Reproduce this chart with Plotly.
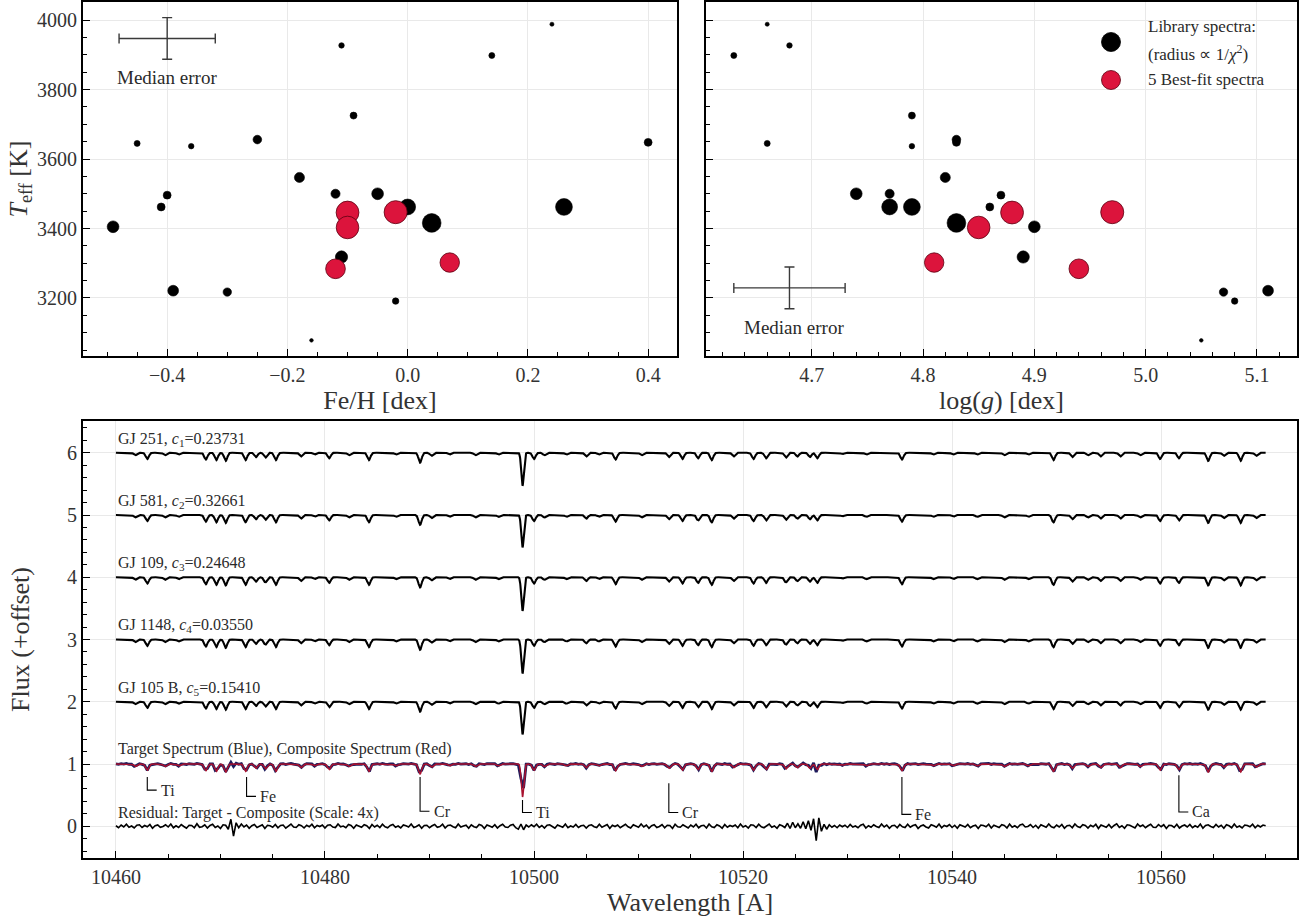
import numpy as np
import plotly.graph_objects as go

# ---------------------------------------------------------------- data
# Library stars: effective temperature, metallicity, surface gravity and
# relative 1/chi^2 weight (marker radius is proportional to it)
lib_teff = [3988, 3927, 3898, 3725, 3656, 3648, 3645, 3637, 3547, 3500, 3500,
            3496, 3462, 3462, 3462, 3416, 3405, 3318, 3221, 3217, 3191, 3078]
lib_feh = [0.24, -0.11, 0.14, -0.09, -0.25, 0.40, -0.45, -0.36, -0.18, -0.05, -0.12,
           -0.40, -0.41, 0.00, 0.26, 0.04, -0.49, -0.11, -0.39, -0.30, -0.02, -0.16]
lib_logg = [4.66, 4.68, 4.63, 4.79, 4.83, 4.83, 4.66, 4.79, 4.82, 4.74, 4.77,
            4.87, 4.86, 4.77, 4.79, 4.83, 4.90, 4.89, 5.11, 5.07, 5.08, 5.05]
lib_weight = [0.17, 0.23, 0.25, 0.29, 0.36, 0.33, 0.25, 0.23, 0.42, 0.49, 0.38,
              0.33, 0.33, 0.66, 0.70, 0.78, 0.49, 0.51, 0.45, 0.35, 0.27, 0.15]

# The five best-fit library spectra
best_teff = [3446, 3447, 3403, 3302, 3284]
best_feh = [-0.10, -0.02, -0.10, 0.07, -0.12]
best_logg = [4.88, 4.97, 4.85, 4.81, 4.94]
best_weight = [0.95, 0.96, 0.94, 0.81, 0.82]

# Median uncertainties of the library parameters
med_err_feh = 0.08
med_err_logg = 0.05
med_err_teff = 60

# Best-fit spectra, their linear coefficients and plotting offsets
spec_names = ["GJ 251", "GJ 581", "GJ 109", "GJ 1148", "GJ 105 B"]
spec_coef = [0.23731, 0.32661, 0.24648, 0.03550, 0.15410]
spec_offset = [6, 5, 4, 3, 2]
spec_strength = [1.00, 0.98, 1.02, 1.03, 0.99]

# Absorption line list across the 10460-10570 A window
line_wl = [10461.85, 10463.0, 10464.7, 10466.0, 10468.6, 10469.6, 10470.5, 10472.4,
           10473.4, 10474.3, 10475.3, 10477.7, 10479.0, 10480.4, 10482.3, 10484.2,
           10486.8, 10489.1, 10490.2, 10491.9, 10494.4, 10496.6, 10498.9, 10500.0,
           10501.0, 10503.1, 10505.0, 10506.2, 10507.8, 10510.3, 10512.9, 10514.2,
           10515.7, 10517.0, 10519.1, 10521.0, 10522.2, 10524.1, 10525.2, 10526.4,
           10527.1, 10529.5, 10531.8, 10535.2, 10538.2, 10540.1, 10542.4, 10545.0,
           10547.3, 10549.7, 10551.5, 10553.0, 10554.2, 10556.1, 10558.0, 10559.9,
           10561.7, 10564.5, 10566.0, 10567.6, 10569.1]
line_depth = [0.04, 0.10, 0.04, 0.03, 0.11, 0.12, 0.13, 0.12,
              0.07, 0.08, 0.12, 0.06, 0.03, 0.09, 0.04, 0.12,
              0.03, 0.16, 0.05, 0.03, 0.04, 0.03, 0.53, 0.10,
              0.04, 0.03, 0.06, 0.03, 0.11, 0.04, 0.07, 0.10,
              0.09, 0.12, 0.06, 0.10, 0.09, 0.08, 0.06, 0.07,
              0.09, 0.02, 0.03, 0.11, 0.03, 0.03, 0.03, 0.04,
              0.03, 0.12, 0.07, 0.04, 0.06, 0.06, 0.04, 0.10,
              0.09, 0.13, 0.05, 0.13, 0.05]
line_sigma = [0.15] * 22 + [0.12] + [0.15] * 38

# Identified lines
id_element = ["Ti", "Fe", "Cr", "Ti", "Cr", "Fe", "Ca"]
id_wl = [10463.0, 10472.5, 10489.1, 10498.9, 10512.9, 10535.2, 10561.7]

# Residual (target - composite) in units of 1e-3, sampled every 0.25 A
resid_step = 0.25
resid_milli = [
    2, -6, 5, -3, 8, -4, 1, -7, 4, 6, -5, 3, -2, 7, -8, 2, 5, -4, -1, 6,
    -3, 9, -6, 2, -5, 7, -1, -8, 4, 3, -6, 10, -4, -2, 6, -7, 3, 8, -5, 1,
    -9, 6, 4, -12, 28, -40, 14, -6, 9, -3, 5, -8, 2, 7, -5, -1, 6, -9, 4, 2,
    -4, 7, -6, 3, 5, -8, 1, 9, -3, -5, 6, 2, -7, 4, -2, 8, -6, 3, -1, 5,
    -7, 4, 6, -3, -5, 9, -2, 1, -6, 7, 3, -8, 5, -1, -4, 6, 2, -9, 7, -3,
    4, -5, 8, -2, -6, 3, 7, -4, 1, -7, 5, 2, -3, 9, -5, -1, 6, -8, 3, 4,
    -6, 2, 7, -4, -1, 8, -7, 3, 5, -2, -6, 9, -3, 1, 4, -8, 6, -2, -5, 7,
    3, -9, 5, 1, -4, 6, -7, 2, 8, -3, -5, 4, 7, -6, -12, 9, -14, 5, -3, 6,
    -2, 8, -5, 3, -7, 4, 6, -1, -8, 5, 2, -4, 9, -6, 1, -3, 7, -5, 2, 4,
    -7, 3, 6, -2, -5, 8, -4, 1, 7, -9, 4, -1, 5, -6, 3, 8, -2, -7, 6, 1,
    -4, 9, -3, 5, -8, 2, 6, -5, -1, 7, -6, 4, 3, -9, 8, -2, -4, 6, 1, -7,
    5, -3, 8, -6, 2, 4, -7, 9, -2, -5, 6, 1, -8, 7, -4, 3, -1, 5, -6, 9,
    -3, 2, -7, 6, 4, -5, 8, -2, -6, 3, 9, -4, 1, -8, 6, 2, -5, 12, -9, 16,
    -6, 10, -8, 18, -10, 22, -16, 30, -58, 34, -20, 8, -12, 6, -4, 3, -6, 5, -2, 4,
    -5, 7, -3, 1, -6, 4, 8, -7, 2, -4, 6, -1, -5, 9, -3, 5, -8, 2, 4, -6,
    7, -2, -5, 8, -4, 3, 6, -9, 1, 5, -3, -7, 6, 2, -4, 9, -6, 3, -1, 7,
    -5, 4, -8, 6, 2, -3, 7, -6, 1, 4, -9, 5, 3, -2, 8, -7, 4, -1, -5, 6,
    3, -7, 9, -4, 2, -6, 5, 8, -3, -1, 7, -5, 4, -8, 6, 1, -4, 9, -2, -6,
    5, -3, 7, -8, 2, 4, -6, 9, -1, -5, 6, 3, -7, 4, -2, 8, -9, 5, 1, -4,
    7, -6, 3, 10, -5, 2, -8, 6, 4, -3, -7, 9, -1, 5, -6, 2, 8, -4, -5, 7,
    -2, 6, -9, 4, 3, -5, 8, -7, 1, 5, -3, 7, -6, 2, -4, 9, -8, 3, 6, -1,
    -5, 7, -3, 4, -8, 6, 2, -6, 9, -4, 1, -7, 5, 3, -2, 8, -6, 4, -3, 5,
    2,
]
resid_scale = 4
wl_start, wl_end = 10460.0, 10570.0

# ---------------------------------------------------------------- styling
SERIF = "Liberation Serif, Times New Roman, serif"
INK = "#2a2a2a"
RED = "#dc143c"
W, H = 1307, 920


def px_x(p):
    return p / W


def px_y(p):
    return 1 - p / H


def line_model(wl, strength):
    flux = np.ones_like(wl)
    for c, d, s in zip(line_wl, line_depth, line_sigma):
        flux -= strength * d * np.exp(-0.5 * ((wl - c) / s) ** 2)
    return flux


fig = go.Figure()

# ---------------------------------------------------------------- top panels
for xa, ya, xs, xbest in (("x", "y", lib_feh, best_feh), ("x2", "y2", lib_logg, best_logg)):
    fig.add_trace(go.Scatter(
        x=xs, y=lib_teff, xaxis=xa, yaxis=ya, mode="markers",
        marker=dict(size=[24 * w for w in lib_weight], color="black", opacity=1,
                    line=dict(width=0.6, color="black")),
        showlegend=False, hoverinfo="skip"))
    fig.add_trace(go.Scatter(
        x=xbest, y=best_teff, xaxis=xa, yaxis=ya, mode="markers",
        marker=dict(size=[24 * w for w in best_weight], color=RED, opacity=1,
                    line=dict(width=0.8, color="#5a0010")),
        showlegend=False, hoverinfo="skip"))

# median error crosses
err_style = dict(type="constant", thickness=1.4, width=5, color="#3a3a3a")
fig.add_trace(go.Scatter(
    x=[-0.40], y=[3947], xaxis="x", yaxis="y", mode="markers",
    marker=dict(size=1, color="rgba(0,0,0,0)"),
    error_x=dict(value=med_err_feh, **err_style),
    error_y=dict(value=med_err_teff, **err_style),
    showlegend=False, hoverinfo="skip"))
fig.add_trace(go.Scatter(
    x=[4.68], y=[3229], xaxis="x2", yaxis="y2", mode="markers",
    marker=dict(size=1, color="rgba(0,0,0,0)"),
    error_x=dict(value=med_err_logg, **err_style),
    error_y=dict(value=med_err_teff, **err_style),
    showlegend=False, hoverinfo="skip"))

# ---------------------------------------------------------------- spectra
wl = np.arange(wl_start, wl_end + 1e-9, 0.02)
composite = np.zeros_like(wl)
for name, c, off, st in zip(spec_names, spec_coef, spec_offset, spec_strength):
    f = line_model(wl, st)
    composite += c * f
    fig.add_trace(go.Scatter(
        x=wl, y=f + (off - 1), xaxis="x3", yaxis="y3", mode="lines",
        line=dict(color="black", width=2.1), showlegend=False, hoverinfo="skip"))

# target = composite + residual, on the residual sampling
resid = np.array(resid_milli) / 1000.0
wl_r = wl_start + resid_step * np.arange(len(resid))
comp_r = np.zeros_like(wl_r)
for c, st in zip(spec_coef, spec_strength):
    comp_r += c * line_model(wl_r, st)
target = comp_r + resid

fig.add_trace(go.Scatter(
    x=wl_r, y=target, xaxis="x3", yaxis="y3", mode="lines",
    line=dict(color="#1c1c5c", width=2.8), showlegend=False, hoverinfo="skip"))
fig.add_trace(go.Scatter(
    x=wl, y=composite, xaxis="x3", yaxis="y3", mode="lines",
    line=dict(color="#a8122f", width=1.5), showlegend=False, hoverinfo="skip"))
fig.add_trace(go.Scatter(
    x=wl_r, y=(target - comp_r) * resid_scale, xaxis="x3", yaxis="y3", mode="lines",
    line=dict(color="black", width=1.6), showlegend=False, hoverinfo="skip"))

# ---------------------------------------------------------------- annotations
ann = []
shapes = []
LABEL = dict(family=SERIF, size=16, color=INK)

for name, c, off, k in zip(spec_names, spec_coef, spec_offset, range(1, 6)):
    ann.append(dict(x=wl_start, y=off + 0.22, xref="x3", yref="y3",
                    text=f"{name}, <i>c</i><sub>{k}</sub>={c:.5f}",
                    xanchor="left", yanchor="middle", showarrow=False, font=LABEL))
ann.append(dict(x=wl_start, y=1.24, xref="x3", yref="y3",
                text="Target Spectrum (Blue), Composite Spectrum (Red)",
                xanchor="left", yanchor="middle", showarrow=False, font=LABEL))
ann.append(dict(x=wl_start, y=0.21, xref="x3", yref="y3",
                text=f"Residual: Target - Composite (Scale: {resid_scale}x)",
                xanchor="left", yanchor="middle", showarrow=False, font=LABEL))

# line identification brackets: (top, corner) levels in flux units
bracket_top = [0.79, 0.79, 0.79, 0.42, 0.69, 0.79, 0.82]
bracket_low = [0.58, 0.48, 0.24, 0.22, 0.22, 0.19, 0.23]
for el, lam, t, b in zip(id_element, id_wl, bracket_top, bracket_low):
    shapes.append(dict(type="path", xref="x3", yref="y3",
                       path=f"M {lam},{t} L {lam},{b} L {lam + 0.9},{b}",
                       line=dict(color="black", width=1.1)))
    ann.append(dict(x=lam + 1.1, y=b, xref="x3", yref="y3", text=el,
                    xanchor="left", yanchor="middle", showarrow=False, font=LABEL))

# median error labels
ann.append(dict(x=-0.40, y=3835, xref="x", yref="y", text="Median error",
                showarrow=False, font=dict(family=SERIF, size=19, color=INK)))
ann.append(dict(x=4.684, y=3114, xref="x2", yref="y2", text="Median error",
                showarrow=False, font=dict(family=SERIF, size=19, color=INK)))

# legend of the top-right panel
for yy, col, edge in ((42, "black", "black"), (80, RED, "#5a0010")):
    shapes.append(dict(type="circle", xref="paper", yref="paper",
                       xsizemode="pixel", ysizemode="pixel",
                       xanchor=px_x(1111), yanchor=px_y(yy),
                       x0=-9.5, x1=9.5, y0=-9.5, y1=9.5,
                       fillcolor=col, line=dict(color=edge, width=0.8)))
for yy, txt in ((27, "Library spectra:"),
                (53, "(radius \u221d 1/<i>\u03c7</i><sup>2</sup>)"),
                (80, "5 Best-fit spectra")):
    ann.append(dict(x=px_x(1146), y=px_y(yy), xref="paper", yref="paper", text=txt,
                    xanchor="left", yanchor="middle", showarrow=False,
                    font=dict(family=SERIF, size=17, color=INK)))

# ---------------------------------------------------------------- axes
def axis(domain, rng, dtick, minor_dtick, title, anchor, fmt=None, tick0=None, standoff=2):
    d = dict(domain=domain, range=rng, dtick=dtick, anchor=anchor, showline=True,
             linecolor="black", linewidth=2, mirror=True, ticks="inside", ticklen=7,
             tickwidth=1.2, tickcolor="black", showgrid=True, gridcolor="#e9e9e9",
             gridwidth=1, zeroline=False,
             tickfont=dict(family=SERIF, size=20, color="#333"),
             minor=dict(ticks="inside", ticklen=4, tickwidth=1, tickcolor="black",
                        dtick=minor_dtick, showgrid=False),
             title=dict(text=title, font=dict(family=SERIF, size=26, color="#333"),
                        standoff=standoff))
    if fmt:
        d["tickformat"] = fmt
    if tick0 is not None:
        d["tick0"] = tick0
        d["minor"]["tick0"] = tick0
    return d


top_dom = [px_y(356), px_y(2)]
fig.update_layout(
    width=W, height=H, margin=dict(l=0, r=0, t=0, b=0),
    paper_bgcolor="white", plot_bgcolor="white", showlegend=False,
    xaxis=axis([px_x(83), px_x(677)], [-0.54, 0.448], 0.2, 0.05, "Fe/H [dex]", "y",
               fmt=".1f", tick0=0),
    yaxis=axis(top_dom, [3033, 4052], 200, 50, "<i>T</i><sub>eff</sub> [K]", "x",
               fmt="d", tick0=0),
    xaxis2=axis([px_x(706), px_x(1297)], [4.605, 5.136], 0.1, 0.02,
                "log(<i>g</i>) [dex]", "y2", fmt=".1f", tick0=4.7),
    yaxis2=axis(top_dom, [3033, 4052], 200, 50, "", "x2", tick0=0),
    xaxis3=axis([px_x(83), px_x(1297)], [10456.85, 10573.0], 20, 5, "Wavelength [A]",
                "y3", fmt="d", tick0=10460),
    yaxis3=axis([px_y(858), px_y(421)], [-0.51, 6.51], 1, 0.2, "Flux (+offset)", "x3",
                fmt="d", tick0=0, standoff=30),
    annotations=ann, shapes=shapes,
)
fig.update_layout(yaxis2=dict(showticklabels=False))

fig.write_html("out.html")
